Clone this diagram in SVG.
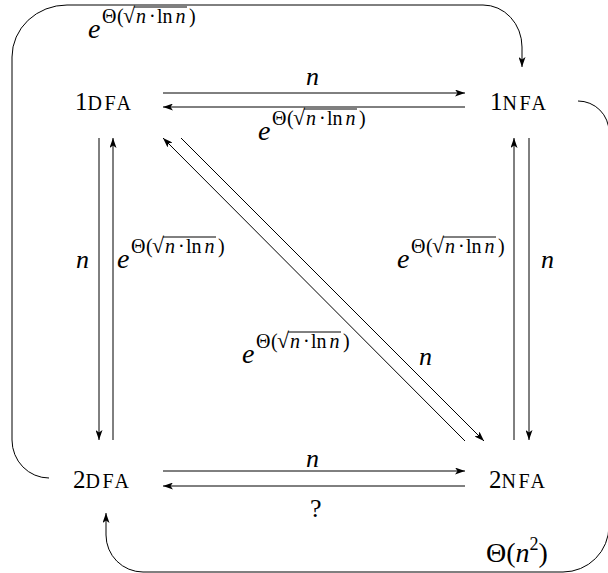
<svg xmlns="http://www.w3.org/2000/svg" width="608" height="573" viewBox="0 0 608 573">
<style>
text{font-family:"Liberation Serif","Times New Roman",serif;fill:#000}
.big{font-size:25px}
.sc{font-size:20px;letter-spacing:2.5px}
.mi{font-style:italic;font-size:26px}
.e{font-style:italic;font-size:28px}
.sup{font-size:20px}
.it{font-style:italic}
.rad{font-size:22px}
.rm{font-size:26px}
.th{font-size:28px}
.ln{fill:none;stroke:#000;stroke-width:1}
.ov{stroke:#000;stroke-width:1}
</style>
<defs>
<marker id="ah" viewBox="0 0 10 7" refX="10" refY="3.5" markerWidth="10" markerHeight="7" markerUnits="userSpaceOnUse" orient="auto">
<path d="M0,0 L10,3.5 L0,7 L2.5,3.5 z" fill="#000"/>
</marker>
</defs>
<rect width="608" height="573" fill="#fff"/>

<g id="node-1DFA"><text x="75" y="110"><tspan class="big">1</tspan><tspan class="sc">DFA</tspan></text></g>
<g id="node-1NFA"><text x="490" y="110"><tspan class="big">1</tspan><tspan class="sc">NFA</tspan></text></g>
<g id="node-2DFA"><text x="73" y="488"><tspan class="big">2</tspan><tspan class="sc">DFA</tspan></text></g>
<g id="node-2NFA"><text x="489" y="488"><tspan class="big">2</tspan><tspan class="sc">NFA</tspan></text></g>

<g id="connectors" class="ln">
<path d="M163,93 L465,93" marker-end="url(#ah)"/>
<path d="M465,107 L163,107" marker-end="url(#ah)"/>
<path d="M163,471 L465,471" marker-end="url(#ah)"/>
<path d="M465,486 L163,486" marker-end="url(#ah)"/>
<path d="M99,138 L99,440" marker-end="url(#ah)"/>
<path d="M113,440 L113,138" marker-end="url(#ah)"/>
<path d="M514,440 L514,138" marker-end="url(#ah)"/>
<path d="M529,138 L529,440" marker-end="url(#ah)"/>
<path d="M465,441 L163,138" marker-end="url(#ah)"/>
<path d="M181,138 L484,441" marker-end="url(#ah)"/>
<path d="M49,478 A37,38 0 0 1 12,440 L12,57 A55,52 0 0 1 67,5 L483,5 A39,42 0 0 1 522,47 L522,67" marker-end="url(#ah)"/>
<path d="M578,101 A31,31 0 0 1 609,132 L609,526 A46,46 0 0 1 563,572 L143,572 A37,37 0 0 1 106,535 L106,513" marker-end="url(#ah)"/>
</g>

<g id="labels">
<text class="mi" x="306" y="85">n</text>
<text class="mi" x="76" y="268">n</text>
<text class="mi" x="541" y="268">n</text>
<text class="mi" x="419" y="365">n</text>
<text class="mi" x="306" y="467">n</text>
<text class="rm" x="310" y="517">?</text>
<text class="th" x="486" y="562">Θ(<tspan class="it">n</tspan><tspan font-size="18" dy="-12">2</tspan><tspan dy="12">)</tspan></text>

<g transform="translate(88,38)">
<text class="e" x="0" y="0">e</text>
<text class="sup" y="-15"><tspan x="14">Θ</tspan><tspan x="29">(</tspan><tspan x="35" class="rad">√</tspan><tspan x="48" class="it">n</tspan><tspan x="61">·</tspan><tspan x="69">ln</tspan><tspan x="87.5" class="it">n</tspan><tspan x="101">)</tspan></text>
<line class="ov" x1="46" y1="-31" x2="99" y2="-31"/>
</g>
<g transform="translate(258,140)">
<text class="e" x="0" y="0">e</text>
<text class="sup" y="-15"><tspan x="14">Θ</tspan><tspan x="29">(</tspan><tspan x="35" class="rad">√</tspan><tspan x="48" class="it">n</tspan><tspan x="61">·</tspan><tspan x="69">ln</tspan><tspan x="87.5" class="it">n</tspan><tspan x="101">)</tspan></text>
<line class="ov" x1="46" y1="-31" x2="99" y2="-31"/>
</g>
<g transform="translate(117,268)">
<text class="e" x="0" y="0">e</text>
<text class="sup" y="-15"><tspan x="14">Θ</tspan><tspan x="29">(</tspan><tspan x="35" class="rad">√</tspan><tspan x="48" class="it">n</tspan><tspan x="61">·</tspan><tspan x="69">ln</tspan><tspan x="87.5" class="it">n</tspan><tspan x="101">)</tspan></text>
<line class="ov" x1="46" y1="-31" x2="99" y2="-31"/>
</g>
<g transform="translate(397,268)">
<text class="e" x="0" y="0">e</text>
<text class="sup" y="-15"><tspan x="14">Θ</tspan><tspan x="29">(</tspan><tspan x="35" class="rad">√</tspan><tspan x="48" class="it">n</tspan><tspan x="61">·</tspan><tspan x="69">ln</tspan><tspan x="87.5" class="it">n</tspan><tspan x="101">)</tspan></text>
<line class="ov" x1="46" y1="-31" x2="99" y2="-31"/>
</g>
<g transform="translate(242,363)">
<text class="e" x="0" y="0">e</text>
<text class="sup" y="-15"><tspan x="14">Θ</tspan><tspan x="29">(</tspan><tspan x="35" class="rad">√</tspan><tspan x="48" class="it">n</tspan><tspan x="61">·</tspan><tspan x="69">ln</tspan><tspan x="87.5" class="it">n</tspan><tspan x="101">)</tspan></text>
<line class="ov" x1="46" y1="-31" x2="99" y2="-31"/>
</g>
</g>
</svg>
